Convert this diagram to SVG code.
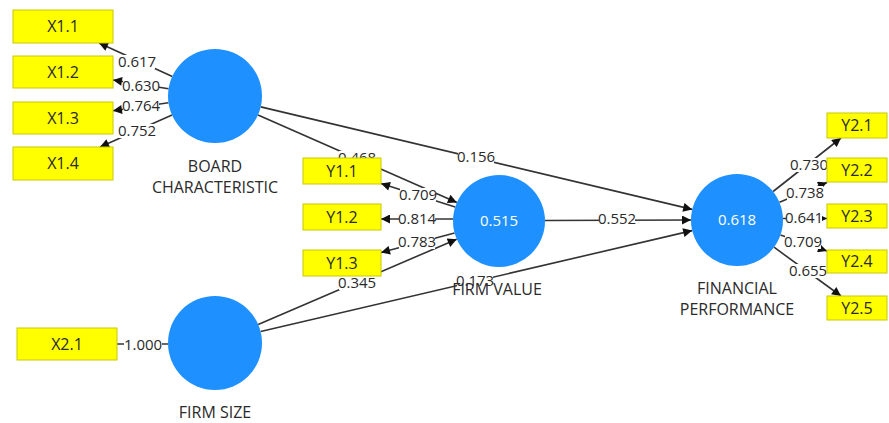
<svg xmlns="http://www.w3.org/2000/svg" width="889" height="423" viewBox="0 0 889 423">
<style>
text{font-family:"Open Sans","Liberation Sans",sans-serif;font-size:16px;text-anchor:middle;fill:#2a2a2a}
.num{font-size:15px}
.ln{stroke:#333;stroke-width:1.6;fill:none}
.arr{marker-end:url(#ah)}
.lbg{fill:#fff}
.lv{fill:#1e90ff}
.ind{fill:#ffff00;stroke:#c8c800;stroke-width:1}
.w{fill:#fff}
</style>
<defs>
<marker id="ah" viewBox="0 0 10 10" refX="10" refY="5" markerWidth="10" markerHeight="9" markerUnits="userSpaceOnUse" orient="auto">
<path d="M0,0 L10,5 L0,10 z" fill="#111"/>
</marker>
</defs>
<rect width="889" height="423" fill="#fff"/>
<g id="connectors">
<line class="ln arr" x1="172.3" y1="76.5" x2="99" y2="43"/>
<line class="ln arr" x1="168.6" y1="88.7" x2="113" y2="80"/>
<line class="ln arr" x1="168.5" y1="102.7" x2="113" y2="110.8"/>
<line class="ln arr" x1="172" y1="115" x2="100" y2="147"/>
<line class="ln" x1="168" y1="344" x2="117" y2="344"/>
<line class="ln arr" x1="455.2" y1="207" x2="381" y2="183.5"/>
<line class="ln arr" x1="453" y1="219" x2="381" y2="219"/>
<line class="ln arr" x1="454.6" y1="232.9" x2="381" y2="252.6"/>
<line class="ln arr" x1="258" y1="115" x2="456.9" y2="202.5"/>
<line class="ln arr" x1="260.7" y1="106.9" x2="692.2" y2="209.4"/>
<line class="ln arr" x1="545" y1="220.5" x2="691" y2="220"/>
<line class="ln arr" x1="258.2" y1="324.5" x2="456.7" y2="239.2"/>
<line class="ln arr" x1="260.7" y1="331.5" x2="692.2" y2="230.6"/>
<line class="ln arr" x1="773.1" y1="191.5" x2="841" y2="138"/>
<line class="ln arr" x1="779.5" y1="202.3" x2="827" y2="182.5"/>
<line class="ln arr" x1="783" y1="218.5" x2="827" y2="218.5"/>
<line class="ln arr" x1="780.5" y1="235" x2="827" y2="251"/>
<line class="ln arr" x1="774" y1="247.2" x2="841" y2="296"/>
<g id="path-labels">
<rect class="lbg" x="119" y="55" width="36" height="14"/><text class="num" x="137" y="67">0.617</text>
<rect class="lbg" x="123" y="79" width="36" height="14"/><text class="num" x="141" y="91">0.630</text>
<rect class="lbg" x="123" y="99" width="36" height="14"/><text class="num" x="141" y="111">0.764</text>
<rect class="lbg" x="119" y="124" width="36" height="14"/><text class="num" x="137" y="136">0.752</text>
<rect class="lbg" x="124" y="338" width="38" height="14"/><text class="num" x="143" y="350">1.000</text>
<rect class="lbg" x="400" y="188" width="36" height="14"/><text class="num" x="418" y="200">0.709</text>
<rect class="lbg" x="399" y="212" width="36" height="14"/><text class="num" x="417" y="224">0.814</text>
<rect class="lbg" x="399" y="235" width="36" height="14"/><text class="num" x="417" y="247">0.783</text>
<rect class="lbg" x="339" y="151" width="36" height="14"/><text class="num" x="357" y="163">0.468</text>
<rect class="lbg" x="458" y="150" width="36" height="14"/><text class="num" x="476" y="162">0.156</text>
<rect class="lbg" x="599" y="212" width="36" height="14"/><text class="num" x="617" y="224">0.552</text>
<rect class="lbg" x="339" y="276" width="36" height="14"/><text class="num" x="357" y="288">0.345</text>
<rect class="lbg" x="457" y="274" width="36" height="14"/><text class="num" x="475" y="286">0.173</text>
<rect class="lbg" x="791" y="158" width="36" height="14"/><text class="num" x="809" y="170">0.730</text>
<rect class="lbg" x="787" y="186" width="36" height="14"/><text class="num" x="805" y="198">0.738</text>
<rect class="lbg" x="786" y="211" width="36" height="14"/><text class="num" x="804" y="223">0.641</text>
<rect class="lbg" x="785" y="235" width="36" height="14"/><text class="num" x="803" y="247">0.709</text>
<rect class="lbg" x="790" y="264" width="36" height="14"/><text class="num" x="808" y="276">0.655</text>
</g>
</g>
<g id="board-characteristic">
<circle class="lv" cx="215" cy="96" r="47"/>
<text x="215" y="172">BOARD</text>
<text x="215" y="193">CHARACTERISTIC</text>
</g>
<g id="firm-size">
<circle class="lv" cx="215" cy="343" r="47"/>
<text x="215" y="418">FIRM SIZE</text>
</g>
<g id="firm-value">
<circle class="lv" cx="499" cy="221" r="46"/>
<text class="w num" x="499" y="226">0.515</text>
<text x="497" y="295">FIRM VALUE</text>
</g>
<g id="financial-performance">
<circle class="lv" cx="737" cy="220" r="46"/>
<text class="w num" x="737" y="225">0.618</text>
<text x="737" y="294">FINANCIAL</text>
<text x="737" y="315">PERFORMANCE</text>
</g>
<g id="X1.1"><rect class="ind" x="13" y="10" width="100" height="33"/><text x="63" y="32">X1.1</text></g>
<g id="X1.2"><rect class="ind" x="13" y="56" width="100" height="32"/><text x="63" y="78">X1.2</text></g>
<g id="X1.3"><rect class="ind" x="13" y="102" width="100" height="32"/><text x="63" y="124">X1.3</text></g>
<g id="X1.4"><rect class="ind" x="13" y="147" width="100" height="33"/><text x="63" y="169">X1.4</text></g>
<g id="X2.1"><rect class="ind" x="17" y="328" width="100" height="32"/><text x="67" y="350">X2.1</text></g>
<g id="Y1.1"><rect class="ind" x="303" y="158" width="78" height="26"/><text x="342" y="177">Y1.1</text></g>
<g id="Y1.2"><rect class="ind" x="303" y="204" width="78" height="26"/><text x="342" y="223">Y1.2</text></g>
<g id="Y1.3"><rect class="ind" x="303" y="250" width="78" height="26"/><text x="342" y="269">Y1.3</text></g>
<g id="Y2.1"><rect class="ind" x="827" y="113" width="60" height="25"/><text x="857" y="131">Y2.1</text></g>
<g id="Y2.2"><rect class="ind" x="827" y="158" width="60" height="24"/><text x="857" y="176">Y2.2</text></g>
<g id="Y2.3"><rect class="ind" x="827" y="204" width="60" height="24"/><text x="857" y="222">Y2.3</text></g>
<g id="Y2.4"><rect class="ind" x="827" y="250" width="60" height="23"/><text x="857" y="267">Y2.4</text></g>
<g id="Y2.5"><rect class="ind" x="827" y="296" width="60" height="24"/><text x="857" y="314">Y2.5</text></g>
</svg>
